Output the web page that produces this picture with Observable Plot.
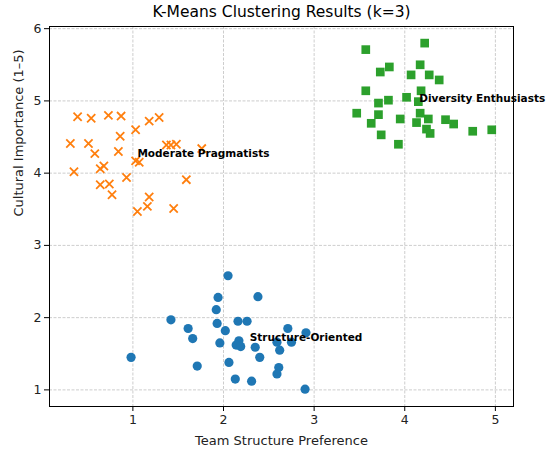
<!DOCTYPE html>
<html>
<head>
<meta charset="utf-8">
<script src="https://cdn.jsdelivr.net/npm/d3@7"></script>
<script src="https://cdn.jsdelivr.net/npm/@observablehq/plot@0.6"></script>
<style>
  html, body { margin: 0; padding: 0; background: #fff; }
  svg { display: block; }
</style>
</head>
<body>
<div id="chart"></div>
<script>
// Structure-Oriented (blue circles)
const structureX = [2.05, 1.94, 2.38, 1.92, 1.42, 1.93, 2.16, 2.26, 1.61, 2.02, 2.71, 2.91, 1.66, 1.96, 2.17, 2.14, 2.19, 2.35, 2.59, 2.75, 2.62, 2.40, 0.98, 2.06, 1.71, 2.61, 2.59, 2.13, 2.31, 2.90];
const structureY = [2.58, 2.28, 2.29, 2.11, 1.97, 1.92, 1.95, 1.95, 1.85, 1.82, 1.85, 1.79, 1.71, 1.65, 1.68, 1.62, 1.60, 1.59, 1.66, 1.66, 1.55, 1.45, 1.45, 1.38, 1.33, 1.31, 1.22, 1.15, 1.12, 1.01];

// Moderate Pragmatists (orange crosses)
const moderateX = [0.39, 0.54, 0.73, 0.87, 1.18, 1.29, 1.03, 0.86, 0.31, 0.51, 0.58, 0.84, 1.37, 1.42, 1.48, 1.76, 1.03, 1.07, 0.68, 0.64, 0.35, 0.93, 1.59, 0.64, 0.74, 0.77, 1.18, 1.16, 1.05, 1.45];
const moderateY = [4.78, 4.76, 4.80, 4.79, 4.72, 4.77, 4.60, 4.51, 4.41, 4.41, 4.27, 4.30, 4.39, 4.39, 4.40, 4.34, 4.17, 4.15, 4.10, 4.06, 4.02, 3.94, 3.91, 3.84, 3.85, 3.70, 3.67, 3.54, 3.47, 3.51];

// Diversity Enthusiasts (green squares)
const diversityX = [3.57, 4.22, 3.83, 3.73, 4.17, 4.07, 4.27, 4.38, 3.57, 4.18, 4.02, 3.82, 3.71, 4.15, 3.47, 3.71, 4.17, 3.63, 3.95, 4.13, 4.26, 4.45, 4.54, 4.24, 4.28, 4.75, 4.96, 3.74, 3.93];
const diversityY = [5.71, 5.80, 5.47, 5.40, 5.50, 5.36, 5.36, 5.29, 5.14, 5.14, 5.05, 5.01, 4.97, 4.99, 4.83, 4.81, 4.83, 4.69, 4.75, 4.70, 4.75, 4.74, 4.68, 4.61, 4.55, 4.58, 4.60, 4.53, 4.40];

// Cluster labels
const clusterNames = ["Structure-Oriented", "Moderate Pragmatists", "Diversity Enthusiasts"];
const labelX = [2.29, 1.05, 4.16];
const labelY = [1.68, 4.22, 4.98];

const xTicks = [1, 2, 3, 4, 5];
const yTicks = [1, 2, 3, 4, 5, 6];

const zip = (xs, ys) => xs.map((x, i) => ({x, y: ys[i]}));
const structure = zip(structureX, structureY);
const moderate = zip(moderateX, moderateY);
const diversity = zip(diversityX, diversityY);
const labels = clusterNames.map((name, i) => ({name, x: labelX[i], y: labelY[i]}));

const font = "DejaVu Sans";
const intFmt = d => String(d);

const chart = Plot.plot({
  width: 550,
  height: 452,
  marginLeft: 49,
  marginRight: 37,
  marginTop: 26,
  marginBottom: 46,
  style: {fontFamily: font, background: "#fff", color: "#000", overflow: "visible"},
  x: {domain: [0.08, 5.2]},
  y: {domain: [0.77, 6.03]},
  marks: [
    Plot.gridX(xTicks, {stroke: "#b0b0b0", strokeOpacity: 0.8, strokeWidth: 0.8, strokeDasharray: "3,1.5"}),
    Plot.gridY(yTicks, {stroke: "#b0b0b0", strokeOpacity: 0.8, strokeWidth: 0.8, strokeDasharray: "3,1.5"}),
    Plot.axisX(xTicks, {tickSize: 5, tickPadding: 4, fontSize: 12.5, tickFormat: intFmt, label: null, stroke: "#000", fill: "#222"}),
    Plot.axisY(yTicks, {tickSize: 5, tickPadding: 3, fontSize: 12.5, tickFormat: intFmt, label: null, stroke: "#000", fill: "#222"}),
    Plot.dot(structure, {x: "x", y: "y", r: 4.6, fill: "#1f77b4", symbol: "circle"}),
    Plot.dot(moderate, {x: "x", y: "y", r: 3.8, stroke: "#ff7f0e", strokeWidth: 1.8, symbol: "times"}),
    Plot.dot(diversity, {x: "x", y: "y", r: 4.9, fill: "#2ca02c", symbol: "square"}),
    Plot.text(labels, {x: "x", y: "y", text: "name", textAnchor: "start", lineAnchor: "bottom", fontWeight: "bold", fontSize: 10.5, fill: "#000"}),
    Plot.frame({stroke: "#000", strokeWidth: 1}),
    Plot.text(["K-Means Clustering Results (k=3)"], {frameAnchor: "top", dy: -14, lineAnchor: "middle", fontSize: 15.5, fill: "#000"}),
    Plot.text(["Team Structure Preference"], {frameAnchor: "bottom", dy: 34, lineAnchor: "middle", fontSize: 13, fill: "#222"}),
    Plot.text(["Cultural Importance (1–5)"], {frameAnchor: "left", dx: -31, rotate: -90, lineAnchor: "middle", fontSize: 13, fill: "#222"})
  ]
});
document.getElementById("chart").appendChild(chart);
</script>
</body>
</html>
